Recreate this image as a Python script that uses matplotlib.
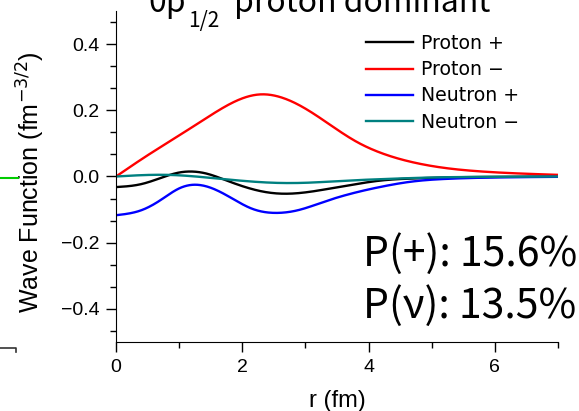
import matplotlib
matplotlib.use("Agg")
import matplotlib.pyplot as plt
import numpy as np
from matplotlib.lines import Line2D
from matplotlib.ticker import MultipleLocator

# ---- data ----
r_proton_plus = [0.0, 0.40, 0.70, 1.00, 1.20, 1.45, 1.75, 2.10, 2.40, 2.65, 3.00, 3.40, 3.80, 4.20, 4.70, 5.50, 6.20, 7.00]
proton_plus = [-0.032, -0.023, -0.005, 0.012, 0.015, 0.008, -0.012, -0.035, -0.048, -0.052, -0.048, -0.036, -0.023, -0.012, -0.006, -0.002, -0.001, 0.000]

r_proton_minus = [0.0, 0.50, 1.00, 1.50, 2.00, 2.28, 2.60, 3.00, 3.40, 3.80, 4.20, 4.70, 5.20, 5.80, 6.40, 7.00]
proton_minus = [0.000, 0.064, 0.124, 0.185, 0.236, 0.248, 0.240, 0.205, 0.155, 0.106, 0.071, 0.043, 0.026, 0.015, 0.009, 0.005]

r_neutron_plus = [0.0, 0.40, 0.70, 1.00, 1.22, 1.50, 1.80, 2.15, 2.55, 2.90, 3.30, 3.70, 4.20, 4.70, 5.25, 6.00, 7.00]
neutron_plus = [-0.117, -0.102, -0.072, -0.036, -0.025, -0.034, -0.062, -0.097, -0.110, -0.101, -0.076, -0.053, -0.031, -0.015, -0.007, -0.003, -0.001]

r_neutron_minus = [0.0, 0.40, 0.80, 1.20, 1.60, 2.00, 2.50, 3.00, 3.60, 4.20, 5.00, 6.00, 7.00]
neutron_minus = [0.000, 0.004, 0.005, 0.001, -0.006, -0.013, -0.019, -0.019, -0.013, -0.008, -0.003, -0.001, 0.000]

series_labels = ["Proton +", "Proton \u2212", "Neutron +", "Neutron \u2212"]
series_colors = ["black", "#ff0000", "#0000ff", "#008080"]

p_plus_text = "P(+): 15.6%"
p_nu_text = "P(\u03bd): 13.5%"
title_main = "0p"
title_sub = "1/2"
title_rest = "proton dominant"

W, H = 579, 411
fig = plt.figure(figsize=(W / 100, H / 100), dpi=100)
ax = fig.add_axes([116 / W, 1 - 342 / H, (558 - 116) / W, (342 - 11) / H])


def natural_spline(x, y, n=500):
    x = np.asarray(x, float)
    y = np.asarray(y, float)
    m = len(x)
    h = np.diff(x)
    A = np.zeros((m, m))
    b = np.zeros(m)
    A[0, 0] = 1
    A[-1, -1] = 1
    for i in range(1, m - 1):
        A[i, i - 1] = h[i - 1]
        A[i, i] = 2 * (h[i - 1] + h[i])
        A[i, i + 1] = h[i]
        b[i] = 3 * ((y[i + 1] - y[i]) / h[i] - (y[i] - y[i - 1]) / h[i - 1])
    c = np.linalg.solve(A, b)
    bb = (y[1:] - y[:-1]) / h - h * (2 * c[:-1] + c[1:]) / 3
    d = (c[1:] - c[:-1]) / (3 * h)
    xs = np.linspace(x[0], x[-1], n)
    idx = np.clip(np.searchsorted(x, xs) - 1, 0, m - 2)
    dx = xs - x[idx]
    ys = y[idx] + bb[idx] * dx + c[idx] * dx**2 + d[idx] * dx**3
    return xs, ys


series = [(r_proton_plus, proton_plus), (r_proton_minus, proton_minus),
          (r_neutron_plus, neutron_plus), (r_neutron_minus, neutron_minus)]
for (rx, vy), lab, col in zip(series, series_labels, series_colors):
    xs, ys = natural_spline(rx, vy)
    ax.plot(xs, ys, color=col, lw=1.7, label=lab)

ax.set_xlim(0, 7)
ax.set_ylim(-0.5, 0.5)
ax.spines['top'].set_visible(False)
ax.spines['right'].set_visible(False)
ax.xaxis.set_major_locator(MultipleLocator(2))
ax.xaxis.set_minor_locator(MultipleLocator(1))
ax.yaxis.set_minor_locator(MultipleLocator(0.2 / 3))
ax.set_yticks([-0.4, -0.2, 0.0, 0.2, 0.4])
ax.set_yticklabels(["\u22120.4", "\u22120.2", "0.0", "0.2", "0.4"])
ax.tick_params(which='major', direction='out', length=7, width=1, labelsize=14, pad=5)
ax.tick_params(which='minor', direction='out', length=4, width=1)
for lbl in ax.get_xticklabels() + ax.get_yticklabels():
    lbl.set_family("Liberation Sans")

ax.set_ylabel(r"Wave Function (fm$^{-3/2}$)", fontsize=18, family="Liberation Sans", labelpad=10)
ax.yaxis.label.set_y(0.482)
ax.set_xlabel("r (fm)", fontsize=17, family="Liberation Sans", labelpad=10)

leg = ax.legend(loc='upper left', bbox_to_anchor=((366 - 116) / 442, (342 - 34) / 331),
                frameon=False, handlelength=2.5, handletextpad=0.4, labelspacing=0.38,
                prop={'family': 'DejaVu Sans', 'size': 13.6}, borderaxespad=0, borderpad=0)

fig.text(363 / W, 1 - 266 / H, p_plus_text, fontsize=29.5, family="Noto Sans CJK JP", ha='left', va='baseline')
fig.text(363 / W, 1 - 318 / H, p_nu_text, fontsize=29.5, family="Noto Sans CJK JP", ha='left', va='baseline')

fig.text(148 / W, 1 - 12 / H, title_main, fontsize=23, family="Noto Sans CJK JP", ha='left', va='baseline')
fig.text(188 / W, 1 - 27 / H, title_sub, fontsize=15, family="Noto Sans CJK JP", ha='left', va='baseline')
fig.text(234 / W, 1 - 12 / H, title_rest, fontsize=23, family="Noto Sans CJK JP", ha='left', va='baseline')

# remnants of neighbouring panel at the left edge
fig.add_artist(Line2D([0, 18 / W], [1 - 178 / H, 1 - 178 / H], color="#00cc00", lw=1.5, transform=fig.transFigure))
fig.add_artist(Line2D([0, 16 / W, 16 / W], [1 - 348 / H, 1 - 348 / H, 1 - 352 / H], color="#333333", lw=1.2, transform=fig.transFigure))

fig.savefig("out.png", dpi=100)
